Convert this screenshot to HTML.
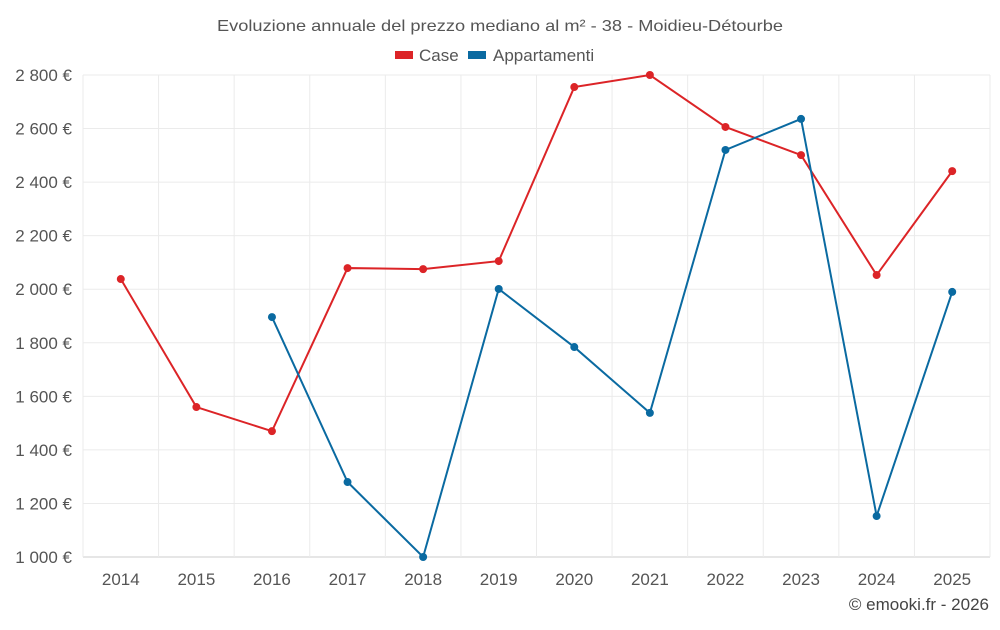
<!DOCTYPE html>
<html><head><meta charset="utf-8"><style>
html,body{margin:0;padding:0;background:#fff;}
svg text{font-family:"Liberation Sans",sans-serif;}
</style></head><body>
<svg id="chart" width="1000" height="625" xmlns="http://www.w3.org/2000/svg">
<text x="217" y="31" font-size="16" fill="#555" textLength="566" lengthAdjust="spacingAndGlyphs">Evoluzione annuale del prezzo mediano al m² - 38 - Moidieu-Détourbe</text>
<g>
<g><rect x="395" y="51" width="18" height="8" fill="#dc2427"/><text x="419" y="61" font-size="17" fill="#555">Case</text></g>
<g><rect x="468" y="51" width="18" height="8" fill="#0a6aa1"/><text x="493" y="61" font-size="17" fill="#555">Appartamenti</text></g>
</g>
<g id="grid"></g>
<g id="axes"></g>
<g id="series"></g>
<text x="989" y="610" text-anchor="end" font-size="17" fill="#444">© emooki.fr - 2026</text>
</svg>
<script>
const years = [2014,2015,2016,2017,2018,2019,2020,2021,2022,2023,2024,2025];
const caseValues = [2038,1560,1470,2079,2075,2105,2755,2800,2606,2501,2053,2441];
const appValues = [null,null,1896,1280,1000,2001,1784,1538,2520,2636,1153,1990];
const yTicks = [1000,1200,1400,1600,1800,2000,2200,2400,2600,2800];
const yTickLabels = ["1 000 €","1 200 €","1 400 €","1 600 €","1 800 €","2 000 €","2 200 €","2 400 €","2 600 €","2 800 €"];

const NS="http://www.w3.org/2000/svg";
const L=83,R=990,T=75,B=557;
const step=(R-L)/years.length;
function x(i){return L+step*(i+0.5);}
function y(v){return B-(v-1000)/(2800-1000)*(B-T);}
function mk(tag,attrs,parent){const e=document.createElementNS(NS,tag);for(const k in attrs)e.setAttribute(k,attrs[k]);parent.appendChild(e);return e;}
const grid=document.getElementById('grid'),axes=document.getElementById('axes'),series=document.getElementById('series');
yTicks.forEach((t,i)=>{
  const ln=mk('line',{x1:L,x2:R,y1:y(t),y2:y(t),stroke:i===0?'#ccc':'#ebebeb','stroke-width':1},grid);
  
  
  const tx=mk('text',{x:72,y:y(t)+6,'text-anchor':'end','font-size':17,fill:'#555'},axes);
  tx.textContent=yTickLabels[i];
  
  
});
for(let i=0;i<=years.length;i++){
  const gx=L+step*i;
  const ln=mk('line',{x1:gx,x2:gx,y1:T,y2:B,stroke:'#ebebeb','stroke-width':1},grid);
  
  
}
years.forEach((yr,i)=>{
  const tx=mk('text',{x:x(i),y:585,'text-anchor':'middle','font-size':17,fill:'#555'},axes);
  tx.textContent=yr;
  
  
});
function draw(vals,color,name){
  const g=mk('g',{},series);
  
  
  let d='';let started=false;
  vals.forEach((v,i)=>{if(v==null){started=false;return;}d+=(started?'L':'M')+x(i)+','+y(v)+' ';started=true;});
  const p=mk('path',{d:d,fill:'none',stroke:color,'stroke-width':2},g);
  
  
  vals.forEach((v,i)=>{if(v==null)return;
    const c=mk('circle',{cx:x(i),cy:y(v),r:4,fill:color},g);
    
    
  });
}
draw(caseValues,'#dc2427','case');
draw(appValues,'#0a6aa1','appartamenti');
</script>
</body></html>
